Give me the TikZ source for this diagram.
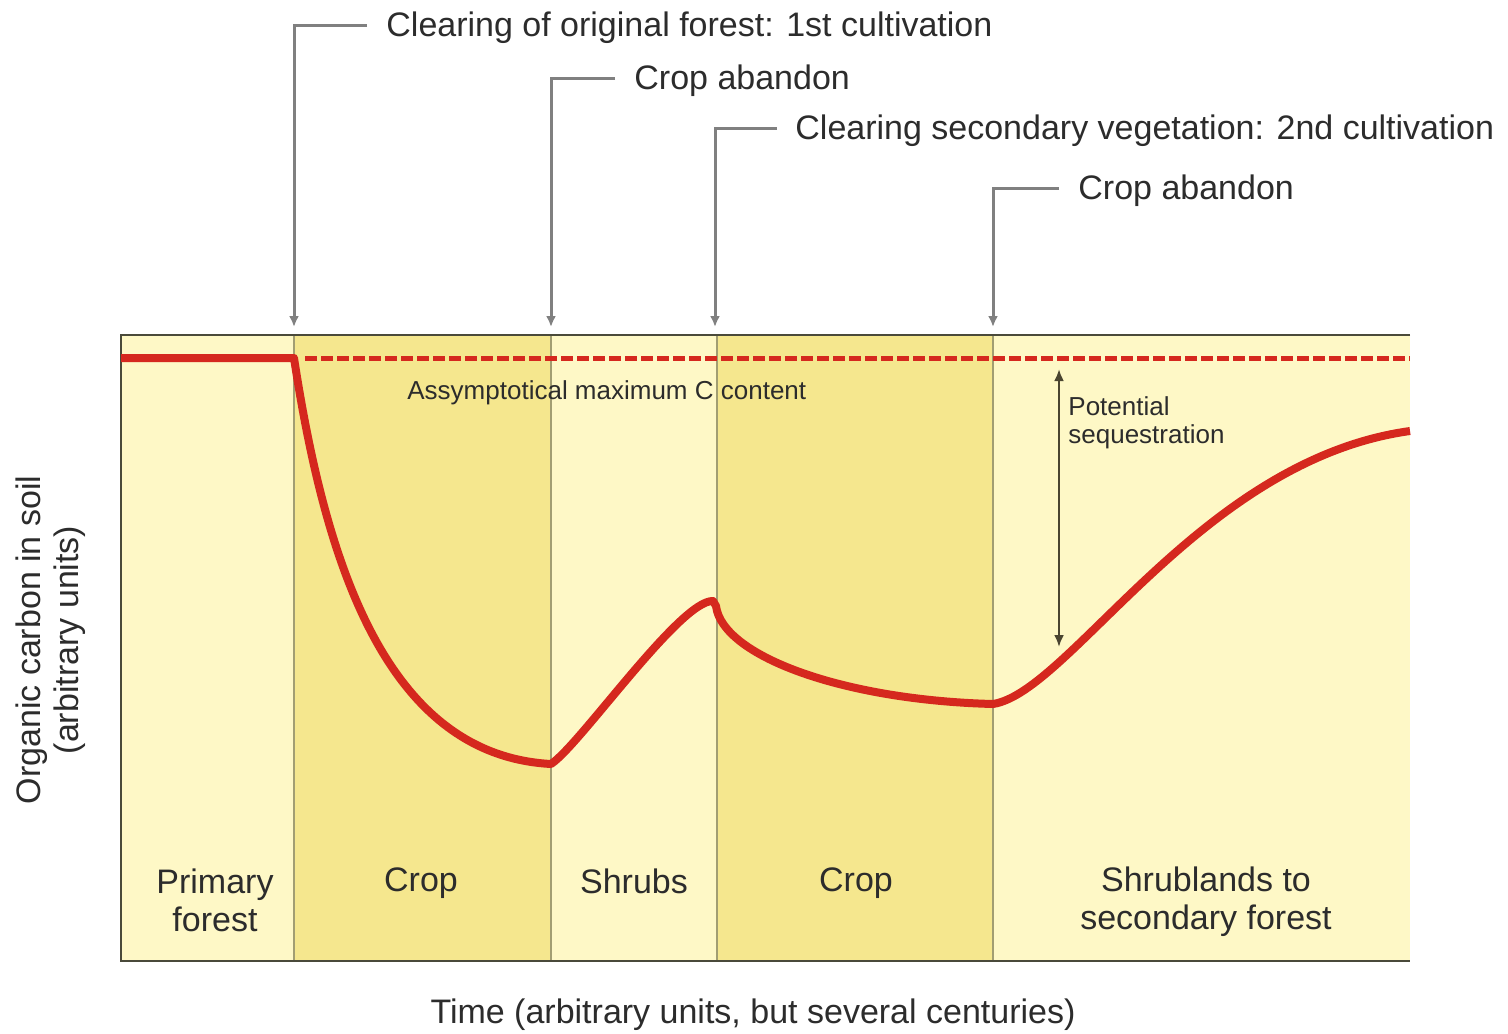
\documentclass[tikz,border=0pt]{standalone}
\usepackage{fontspec}
\setmainfont{Liberation Sans}
\usetikzlibrary{arrows.meta}
\definecolor{lightY}{HTML}{FEF8C6}
\definecolor{cropY}{HTML}{F5E78E}
\definecolor{curveR}{HTML}{D5281E}
\definecolor{frameC}{HTML}{4A4A3A}
\definecolor{divC}{HTML}{A29E72}
\definecolor{arrG}{HTML}{808080}
\definecolor{txtC}{HTML}{2C2C2C}
\definecolor{seqC}{HTML}{4A4530}
\begin{document}
\begin{tikzpicture}[x=0.5pt,y=-0.5pt,
  toplabel/.style={anchor=west,inner sep=0pt,font=\fontsize{17}{20}\selectfont,text=txtC},
  regionlabel/.style={align=center,inner sep=0pt,font=\fontsize{17}{19}\selectfont,text=txtC},
  smalllabel/.style={align=left,inner sep=0pt,font=\fontsize{13}{14}\selectfont,text=txtC},
  eventarrow/.style={draw=arrG,line width=1.5pt,-{Latex[length=5.5pt,width=5pt]}},
  divider/.style={draw=divC,line width=0.8pt},
  carbon/.style={draw=curveR,line width=4pt,line join=round,line cap=butt},
  maxline/.style={draw=curveR,line width=2.5pt,dash pattern=on 6pt off 2pt}
]
\useasboundingbox (0,0) rectangle (1508,1033);
\fill[white] (0,0) rectangle (1508,1033);
% panels
\fill[lightY] (121,335) rectangle (1410,961);
\fill[cropY] (294,335) rectangle (551,961);
\fill[cropY] (717,335) rectangle (993,961);
\foreach \xx in {294,551,717,993} \draw[divider] (\xx,335) -- (\xx,961);
\draw[frameC,line width=1.1pt] (1410,335) -- (121,335) -- (121,961) -- (1410,961);

% maximum line
\coordinate (dashS) at (305,358);
\coordinate (dashE) at (1410,358);
\draw[maxline] (dashS) -- (dashE);
\node[smalllabel,anchor=west] (maxlab) at (407,393) {Assymptotical maximum C content};

% carbon curve
\draw[carbon] (121,358) -- (294,358)
  .. controls (325,560) and (385,755) .. (551,764)
  .. controls (580,745) and (680,600) .. (713,601)
  -- (716,606)
  .. controls (722,655) and (840,700) .. (993,704)
  .. controls (1070,692) and (1200,460) .. (1410,431);

% potential sequestration
\coordinate (seqT) at (1059,369);
\coordinate (seqB) at (1059,647);
\draw[draw=seqC,line width=1.4pt,{Latex[length=6pt,width=5pt]}-{Latex[length=6pt,width=5pt]}] (seqT) -- (seqB);
\node[smalllabel,anchor=west] (seqlab) at (1068,423) {Potential\\sequestration};

% event labels and arrows
\node[toplabel] (ev1) at (386,28) {Clearing of original forest: 1st cultivation};
\node[toplabel] (ev2) at (634,81) {Crop abandon};
\node[toplabel] (ev3) at (795,131) {Clearing secondary vegetation: 2nd cultivation};
\node[toplabel] (ev4) at (1078,191) {Crop abandon};
\coordinate (tip1) at (294,327);
\coordinate (tip2) at (551,327);
\coordinate (tip3) at (715,327);
\coordinate (tip4) at (993,327);
\draw[eventarrow] ([xshift=-9.5pt,yshift=1.5pt]ev1.west) -| (tip1);
\draw[eventarrow] ([xshift=-9.5pt,yshift=1.5pt]ev2.west) -| (tip2);
\draw[eventarrow] ([xshift=-9pt,yshift=1.5pt]ev3.west) -| (tip3);
\draw[eventarrow] ([xshift=-9.5pt,yshift=1.5pt]ev4.west) -| (tip4);

% region labels
\node[regionlabel] (r1) at (215,900) {Primary\\forest};
\node[regionlabel] (r2) at (421,883) {Crop};
\node[regionlabel] (r3) at (634,881) {Shrubs};
\node[regionlabel] (r4) at (856,883) {Crop};
\node[regionlabel] (r5) at (1206,902) {Shrublands to\\secondary forest};

% axes labels
\node[regionlabel,rotate=90] (ylab) at (51,640) {Organic carbon in soil\\(arbitrary units)};
\node[regionlabel] (xlab) at (753,1015) {Time (arbitrary units, but several centuries)};
\end{tikzpicture}
\end{document}
